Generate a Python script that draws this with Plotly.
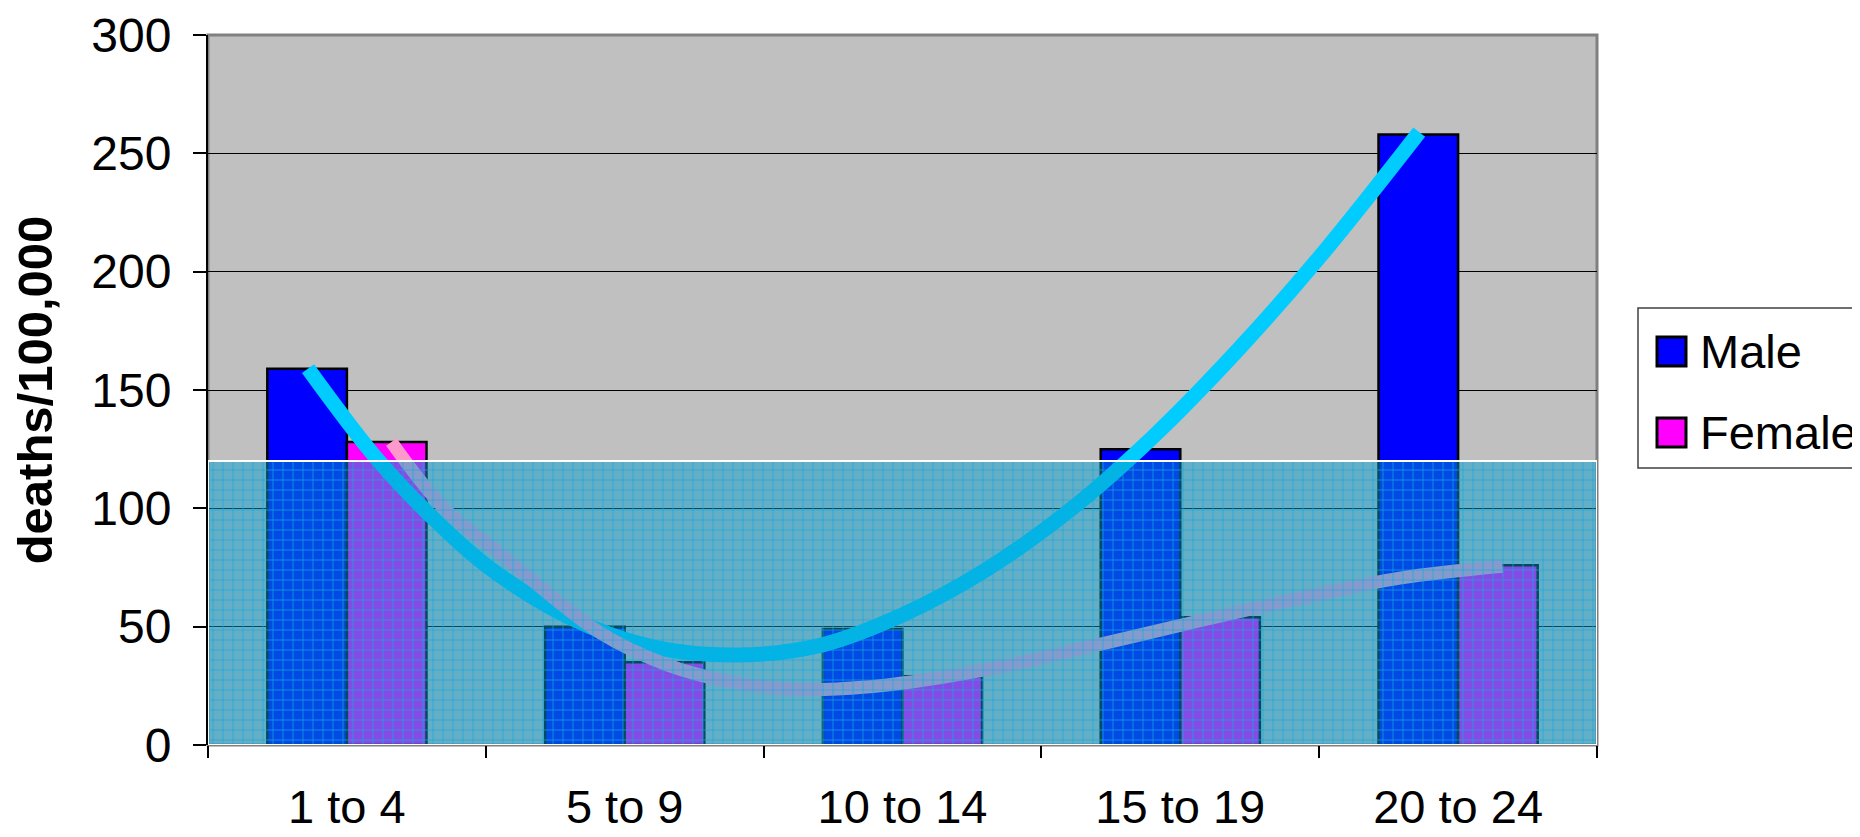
import plotly.graph_objects as go

# ---------------- data ----------------
categories = ["1 to 4", "5 to 9", "10 to 14", "15 to 19", "20 to 24"]
male = [159, 50, 49, 125, 258]
female = [128, 35, 29, 54, 76]

# trend curves (x in category units, 0 = first category centre)
male_trend_x = [-0.14, 0.10, 0.30, 0.50, 0.80, 1.10, 1.40, 1.70, 2.00, 2.30, 2.60, 2.90, 3.20, 3.50, 3.86]
male_trend_y = [159, 122, 97, 76, 54, 41.5, 38, 42, 55, 74, 99, 130, 166, 206, 259]
female_trend_x = [0.16, 0.35, 0.55, 0.91, 1.15, 1.39, 1.63, 1.87, 2.11, 2.35, 2.71, 3.07, 3.43, 3.79, 4.16]
female_trend_y = [128, 100, 81, 47.5, 34, 26.5, 23.5, 24.5, 28, 33, 42.5, 52.5, 62, 70.5, 75.5]

overlay_top = [120]
y_ticks = [0, 50, 100, 150, 200, 250, 300]
legend_names = ["Male", "Female"]

# ---------------- style ----------------
OFF = 8                      # page body margin of the html page
W, H = 1860 - OFF, 837 - OFF
ML, MT = 208 - OFF, 35 - OFF
PW, PH = 1389, 710
MR, MB = W - ML - PW, H - MT - PH
FONT = "Liberation Sans, Arial, sans-serif"
C_MALE, C_FEMALE = "#0000FF", "#FF00FF"
C_MTREND, C_FTREND = "#00CCFF", "#FF99CC"


def px_x(p):
    """viewport pixel -> paper x"""
    return (p - OFF - ML) / PW


def px_y(p):
    """viewport pixel -> paper y"""
    return (H - MB - (p - OFF)) / PH


xs = list(range(len(categories)))

fig = go.Figure()
fig.add_trace(go.Bar(x=xs, y=male, name="Male", marker=dict(color=C_MALE, line=dict(color="black", width=2.5)),
                     showlegend=False))
fig.add_trace(go.Bar(x=xs, y=female, name="Female", marker=dict(color=C_FEMALE, line=dict(color="black", width=2.5)),
                     showlegend=False))
fig.add_trace(go.Scatter(x=male_trend_x, y=male_trend_y, mode="lines",
                         line=dict(color=C_MTREND, width=15, shape="spline", smoothing=1), showlegend=False))
fig.add_trace(go.Scatter(x=female_trend_x, y=female_trend_y, mode="lines",
                         line=dict(color=C_FTREND, width=13, shape="spline", smoothing=1), showlegend=False))

# translucent gridded overlay on top
fig.add_trace(go.Bar(x=[0.5], y=overlay_top, width=[1], xaxis="x2", yaxis="y2", showlegend=False,
                     marker=dict(color="rgba(0,156,203,0.48)",
                                 line=dict(color="white", width=2),
                                 pattern=dict(shape="+", size=10, solidity=0.15, fillmode="overlay",
                                              bgcolor="rgba(0,156,203,0.48)",
                                              fgcolor="rgb(20,165,220)", fgopacity=0.9))))

fig.update_layout(
    width=W, height=H,
    margin=dict(l=ML, r=MR, t=MT, b=MB, autoexpand=False),
    paper_bgcolor="white", plot_bgcolor="#C0C0C0",
    barmode="group", bargap=0.427, bargroupgap=0,
    font=dict(family=FONT, color="black", size=48),
    xaxis=dict(range=[-0.5, 4.5], tickmode="array", tickvals=xs, ticktext=categories,
               ticks="", showgrid=False, zeroline=False, showline=False, automargin=False,
               tickfont=dict(size=47), ticklabelstandoff=30,
               minor=dict(tickmode="array", tickvals=[i - 0.5 for i in range(len(categories) + 1)],
                          ticks="outside", ticklen=12, tickwidth=1.5, tickcolor="black", showgrid=False)),
    yaxis=dict(range=[0, 300], tickmode="array", tickvals=y_ticks, ticks="outside", ticklen=13,
               tickwidth=1.5, tickcolor="black", showgrid=True, gridcolor="black", gridwidth=1,
               showline=True, linecolor="black", linewidth=2, zeroline=False, automargin=False,
               tickfont=dict(size=48), ticklabelstandoff=12,
               title=dict(text="deaths/100,000", font=dict(size=49, weight="bold"), standoff=27)),
    xaxis2=dict(overlaying="x", range=[0, 1], visible=False),
    yaxis2=dict(overlaying="y", range=[0, 300], visible=False),
)

# plot-area border
fig.add_shape(type="rect", xref="x domain", yref="y domain", x0=0, x1=1, y0=0, y1=1,
              line=dict(color="#808080", width=3), layer="below")

# manual legend (box runs off the right edge like the original)
fig.add_shape(type="rect", xref="paper", yref="paper", x0=px_x(1638), x1=px_x(1900),
              y0=px_y(468), y1=px_y(308), line=dict(color="#404040", width=1.5), fillcolor="white")
sq_tops = [337, 418]
for name, col, top in zip(legend_names, [C_MALE, C_FEMALE], sq_tops):
    fig.add_shape(type="rect", xref="paper", yref="paper", x0=px_x(1657), x1=px_x(1686),
                  y0=px_y(top + 29), y1=px_y(top), line=dict(color="black", width=3), fillcolor=col)
    fig.add_annotation(xref="paper", yref="paper", x=px_x(1698), y=px_y(top + 14.5), text=name,
                       showarrow=False, xanchor="left", yanchor="middle",
                       font=dict(size=47, family=FONT, color="black"))

fig.write_html("out.html")
